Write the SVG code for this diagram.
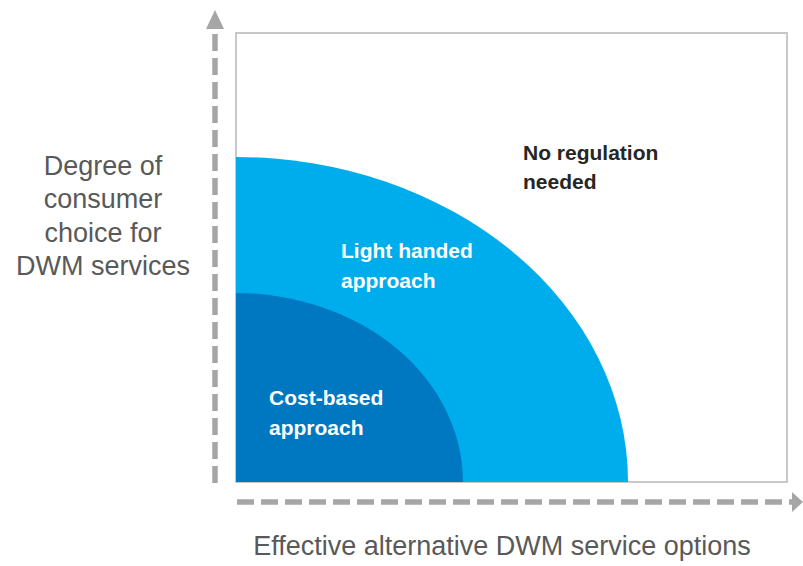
<svg xmlns="http://www.w3.org/2000/svg" width="803" height="566" viewBox="0 0 803 566">
<style>
.axis{stroke:#a6a6a6;stroke-width:5.5;fill:none;stroke-dasharray:17 7}
.head{fill:#a6a6a6}
.lbl{font-family:"Liberation Sans",Arial,sans-serif;font-size:27px;fill:#595959;text-anchor:middle}
.zone{font-family:"Liberation Sans",Arial,sans-serif;font-size:21px;font-weight:bold;fill:#ffffff}
.dark{fill:#262626}
</style>
<rect width="803" height="566" fill="#ffffff"/>
<g id="frame">
<rect x="236" y="33" width="551" height="449" fill="#ffffff" stroke="#c8c8c8" stroke-width="2"/>
</g>
<g id="light-handed">
<path d="M236,157 A392,325 0 0 1 628,482 L236,482 Z" fill="#00adec"/>
<text class="zone" x="341" y="258">Light handed</text>
<text class="zone" x="341" y="288">approach</text>
</g>
<g id="cost-based">
<path d="M236,293 A227,189 0 0 1 463,482 L236,482 Z" fill="#0078c1"/>
<text class="zone" x="269" y="405">Cost-based</text>
<text class="zone" x="269" y="435">approach</text>
</g>
<g id="no-regulation">
<text class="zone dark" x="523" y="160">No regulation</text>
<text class="zone dark" x="523" y="189">needed</text>
</g>
<g id="axes">
<line class="axis" x1="215" y1="483" x2="215" y2="29" style="stroke-dashoffset:0"/>
<polygon class="head" points="215,10 206,29 224,29"/>
<line class="axis" x1="237" y1="502" x2="792" y2="502"/>
<polygon class="head" points="803,502 792,492 792,512"/>
</g>
<g id="y-label">
<text class="lbl" x="103" y="175">Degree of</text>
<text class="lbl" x="103" y="208">consumer</text>
<text class="lbl" x="103" y="242">choice for</text>
<text class="lbl" x="103" y="275">DWM services</text>
</g>
<g id="x-label">
<text class="lbl" x="502" y="555">Effective alternative DWM service options</text>
</g>
</svg>
